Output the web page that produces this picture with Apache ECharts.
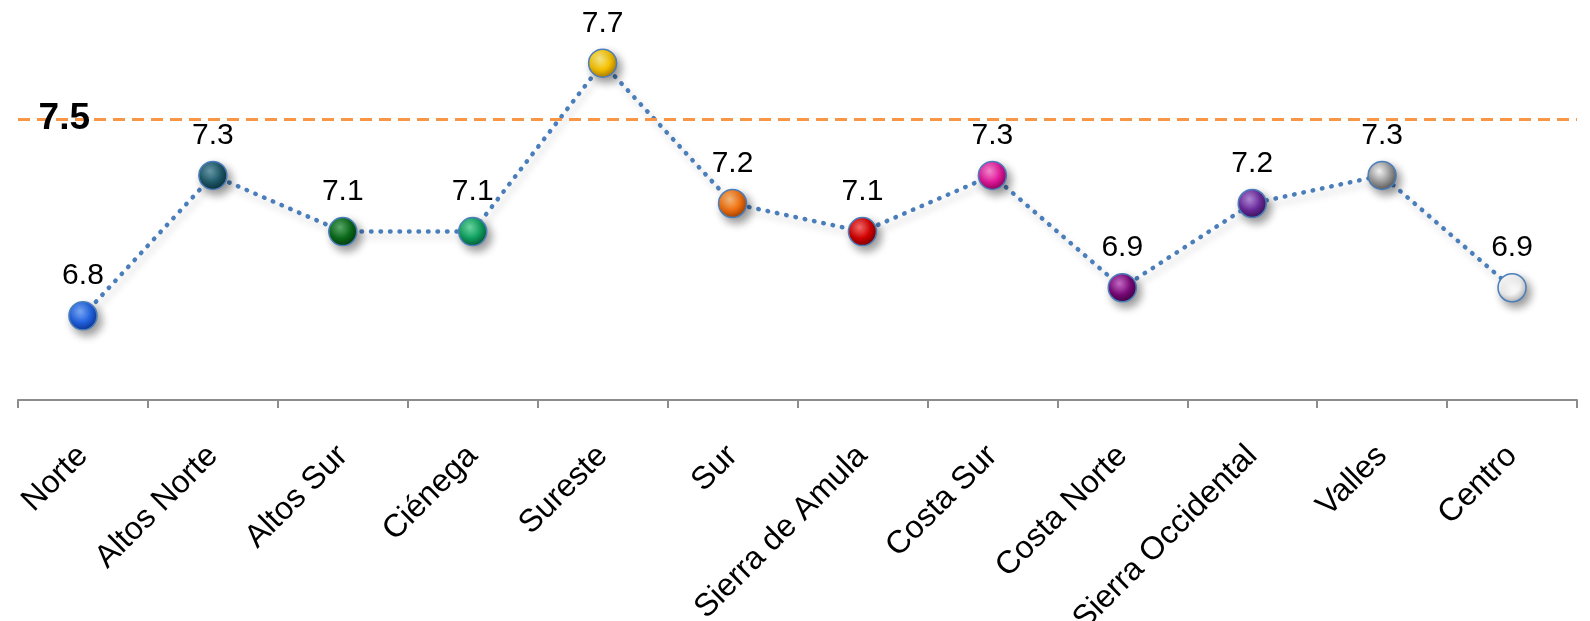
<!DOCTYPE html>
<html>
<head>
<meta charset="utf-8">
<script src="https://cdn.jsdelivr.net/npm/echarts@6/dist/echarts.min.js"></script>
<style>
  html, body { margin: 0; padding: 0; background: #ffffff; }
  #main { width: 1590px; height: 621px; }
</style>
</head>
<body>
<div id="main"></div>
<script>
const regions = ['Norte', 'Altos Norte', 'Altos Sur', 'Ciénega', 'Sureste', 'Sur',
    'Sierra de Amula', 'Costa Sur', 'Costa Norte', 'Sierra Occidental', 'Valles', 'Centro'];
const scores = [6.8, 7.3, 7.1, 7.1, 7.7, 7.2, 7.1, 7.3, 6.9, 7.2, 7.3, 6.9];
const target = 7.5;
// marker colours [light, base, dark]
const ballColors = [
    ['#7fb0ff', '#2262e0', '#0a2f8a'],
    ['#6fa0b0', '#1f5a6a', '#0a2a33'],
    ['#5fb070', '#0b6a1a', '#03330a'],
    ['#70e0a8', '#10a060', '#055030'],
    ['#fff090', '#f5c000', '#a07000'],
    ['#ffc080', '#f07010', '#903a00'],
    ['#ff7070', '#d00000', '#700000'],
    ['#ff90d8', '#e0189a', '#800050'],
    ['#d070d0', '#7a0a7a', '#3a003a'],
    ['#b890e0', '#6a2a9a', '#331050'],
    ['#ffffff', '#9a9a9a', '#505050'],
    ['#ffffff', '#f4f4f4', '#b0b0b0']
];

function ball(c) {
    return {
        type: 'radial', x: 0.4, y: 0.35, r: 0.7,
        colorStops: [
            {offset: 0, color: c[0]},
            {offset: 0.55, color: c[1]},
            {offset: 1, color: c[2]}
        ]
    };
}

const myChart = echarts.init(document.getElementById('main'));
const option = {
    backgroundColor: '#ffffff',
    animation: false,
    grid: {
        left: 18,
        right: 13,
        top: 7,
        bottom: 221,
        containLabel: false,
        outerBoundsMode: 'none'
    },
    xAxis: {
        type: 'category',
        data: regions,
        boundaryGap: true,
        axisLine: {lineStyle: {color: '#8c8c8c', width: 2}},
        axisTick: {show: true, length: 8, lineStyle: {color: '#8c8c8c', width: 2}},
        axisLabel: {
            rotate: 45,
            margin: 51,
            interval: 0,
            color: '#000000',
            fontFamily: 'Liberation Sans, Arial',
            fontSize: 32
        }
    },
    yAxis: {
        type: 'value',
        min: 6.5,
        max: 7.9,
        show: false,
        splitLine: {show: false}
    },
    series: [
        {
            type: 'line',
            data: scores.map(function (v, i) {
                return {value: v, itemStyle: {color: ball(ballColors[i])}};
            }),
            symbol: 'circle',
            symbolSize: 28,
            lineStyle: {
                color: '#4a7ebb',
                width: 4.5,
                type: [0.5, 9],
                cap: 'round',
                shadowColor: 'rgba(0,0,0,0.22)',
                shadowBlur: 7,
                shadowOffsetX: 3,
                shadowOffsetY: 5
            },
            itemStyle: {
                borderColor: '#4a7ebb',
                borderWidth: 1.5,
                shadowColor: 'rgba(0,0,0,0.4)',
                shadowBlur: 9,
                shadowOffsetX: 4,
                shadowOffsetY: 5
            },
            label: {
                show: true,
                position: 'top',
                distance: 10,
                color: '#000000',
                fontFamily: 'Liberation Sans, Arial',
                fontSize: 30,
                formatter: function (p) { return p.value.toFixed(1); }
            },
            markLine: {
                silent: true,
                symbol: ['none', 'none'],
                lineStyle: {color: '#f79646', width: 3, type: [12, 7]},
                label: {
                    show: true,
                    position: 'start',
                    distance: -72,
                    color: '#000000',
                    fontFamily: 'Liberation Sans, Arial',
                    fontWeight: 'bold',
                    fontSize: 37,
                    formatter: '7.5'
                },
                data: [{yAxis: target}]
            },
            z: 3
        }
    ]
};
myChart.setOption(option);
window.onresize = myChart.resize;
</script>
</body>
</html>
